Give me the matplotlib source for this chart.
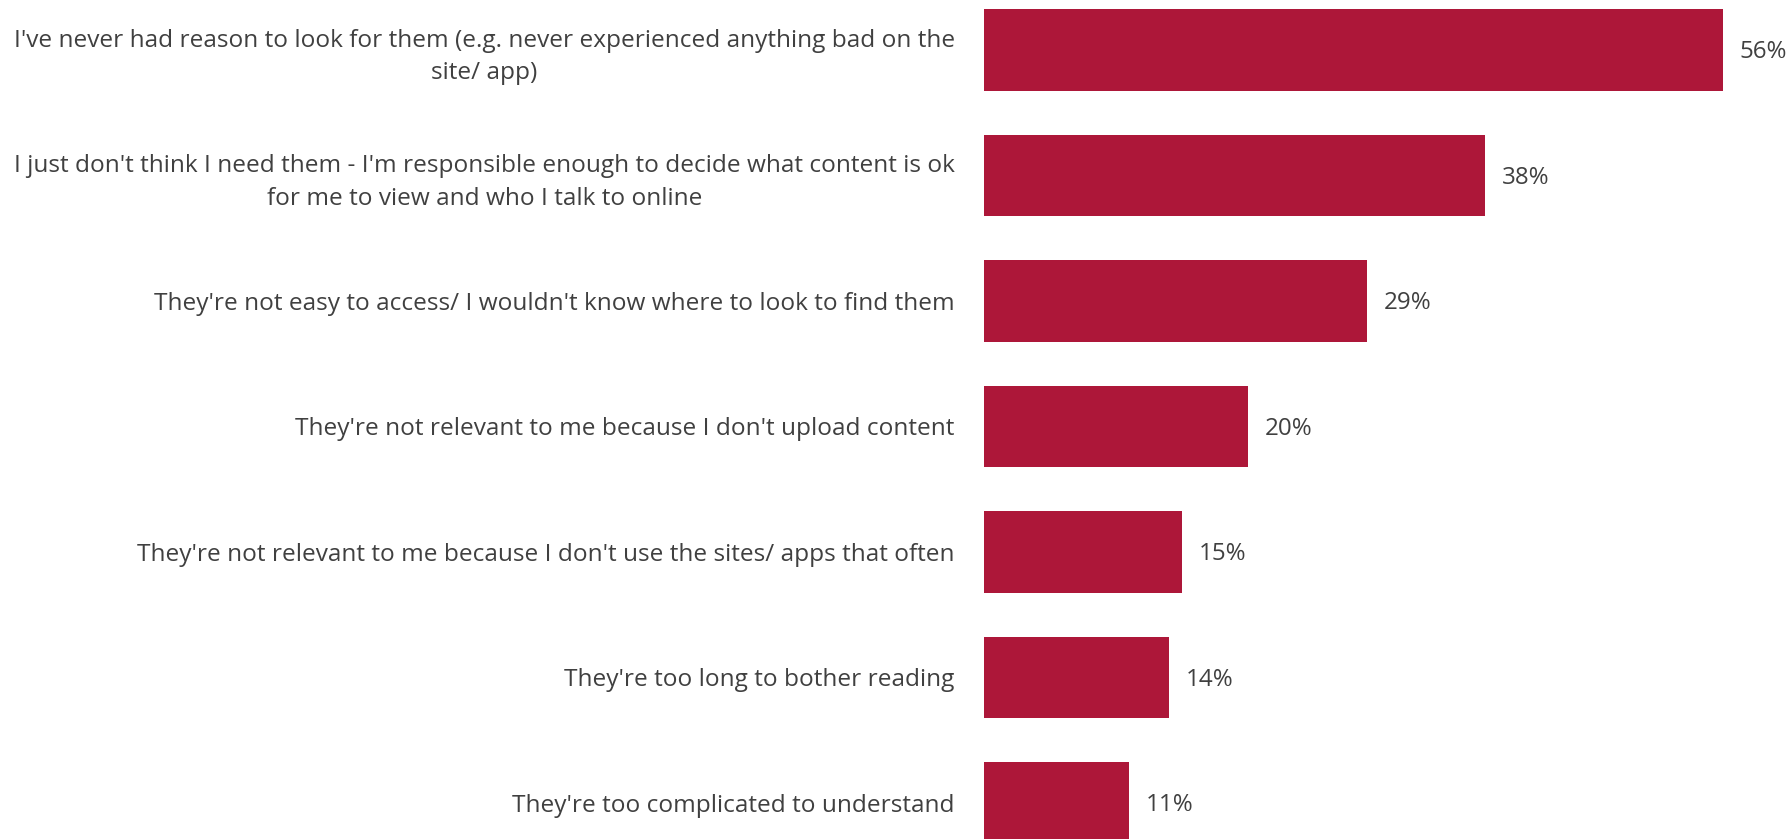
import matplotlib.pyplot as plt

# Reasons for not using safety tools
reasons = [
    "I've never had reason to look for them (e.g. never experienced anything bad on the\nsite/ app)",
    "I just don't think I need them - I'm responsible enough to decide what content is ok\nfor me to view and who I talk to online",
    "They're not easy to access/ I wouldn't know where to look to find them",
    "They're not relevant to me because I don't upload content",
    "They're not relevant to me because I don't use the sites/ apps that often",
    "They're too long to bother reading",
    "They're too complicated to understand",
]
shares = [56, 38, 29, 20, 15, 14, 11]

bar_color = '#AD1739'
text_color = '#404040'

plt.rcParams['font.family'] = ['Open Sans', 'DejaVu Sans']

fig = plt.figure(figsize=(17.89, 8.39), dpi=100)
ax = fig.add_axes([984 / 1789, 0, 1 - 984 / 1789, 1])

pos = list(range(len(reasons)))
ax.barh(pos, shares, height=0.65, color=bar_color)

for y, v in zip(pos, shares):
    ax.annotate(f'{v}%', xy=(v, y + 0.02), xytext=(12, 0), textcoords='offset points',
                ha='left', va='center', fontsize=17.4, color=text_color)

ax.set_xlim(0, 61.0)
ax.set_ylim(6.287, -0.398)
ax.set_yticks(pos)
ax.set_yticklabels(reasons, fontsize=17.6, color=text_color)
for lab in ax.get_yticklabels():
    lab.set_multialignment('center')
    lab.set_linespacing(1.45)
ax.tick_params(axis='y', length=0, pad=21)
ax.set_xticks([])
for s in ax.spines.values():
    s.set_visible(False)

fig.savefig('out.png', dpi=100)
